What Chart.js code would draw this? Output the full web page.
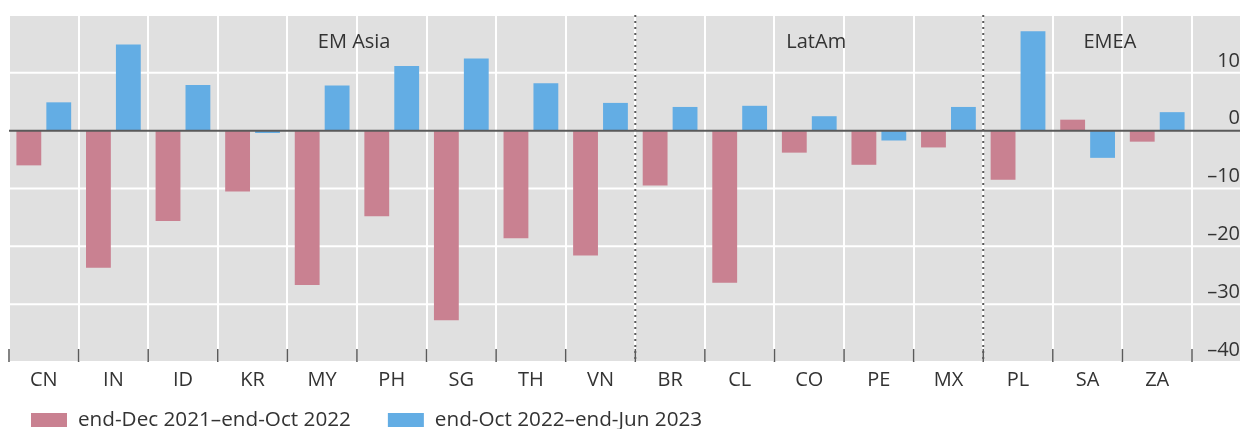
<!DOCTYPE html>
<html>
<head>
<meta charset="utf-8">
<script src="https://cdn.jsdelivr.net/npm/chart.js@4.4.0/dist/chart.umd.min.js"></script>
<style>
  html, body { margin: 0; padding: 0; background: #fff; }
  #wrap { width: 1240px; height: 429px; }
</style>
</head>
<body>
<div id="wrap"><canvas id="fxChart" width="1240" height="429"></canvas></div>
<script>
// data (per cent change)
const countries = ['CN', 'IN', 'ID', 'KR', 'MY', 'PH', 'SG', 'TH', 'VN', 'BR', 'CL', 'CO', 'PE', 'MX', 'PL', 'SA', 'ZA'];
const chgDec21Oct22 = [-6.0, -23.7, -15.6, -10.5, -26.7, -14.8, -32.8, -18.6, -21.6, -9.5, -26.3, -3.8, -5.9, -2.9, -8.5, 1.9, -1.9];
const chgOct22Jun23 = [4.9, 14.9, 7.9, -0.4, 7.8, 11.2, 12.5, 8.2, 4.8, 4.1, 4.3, 2.5, -1.7, 4.1, 17.2, -4.7, 3.2];
const seriesNames = ['end-Dec 2021\u2013end-Oct 2022', 'end-Oct 2022\u2013end-Jun 2023'];
const regionNames = ['EM Asia', 'LatAm', 'EMEA'];
const yTicks = [-40, -30, -20, -10, 0, 10, 20];

const PINK = '#c98191';
const BLUE = '#63ade4';
const TXT = '#333333';
const FONT = "'Open Sans', 'Noto Sans', sans-serif";

// gray panel, gridlines, zero line, region separators and names, legend
const panel = {
  id: 'panel',
  beforeDraw(chart) {
    const {ctx, chartArea: a, scales: {y}} = chart;
    ctx.save();
    ctx.fillStyle = '#e0e0e0';
    ctx.fillRect(a.left, a.top, chart.width - a.left, a.bottom - a.top);
    ctx.strokeStyle = '#ffffff';
    ctx.lineWidth = 2;
    yTicks.forEach(v => {
      if (v === 0) return;
      const py = y.getPixelForValue(v);
      ctx.beginPath();
      ctx.moveTo(a.left, py);
      ctx.lineTo(chart.width, py);
      ctx.stroke();
    });
    ctx.restore();
  },
  afterDatasetsDraw(chart, args, opts) {
    const {ctx, chartArea: a, scales: {x, y}} = chart;
    ctx.save();
    // zero line
    const y0 = y.getPixelForValue(0);
    ctx.strokeStyle = '#5a5a5a';
    ctx.lineWidth = 2;
    ctx.beginPath();
    ctx.moveTo(a.left, y0);
    ctx.lineTo(chart.width, y0);
    ctx.stroke();
    // small ticks at category borders
    ctx.lineWidth = 1.5;
    for (let i = 0; i <= countries.length; i++) {
      const px = x.getPixelForValue(i - 0.5);
      ctx.beginPath();
      ctx.moveTo(px, a.bottom - 13);
      ctx.lineTo(px, a.bottom);
      ctx.stroke();
    }
    // dotted region separators
    ctx.lineWidth = 2;
    ctx.setLineDash([2, 4]);
    opts.breaks.forEach(b => {
      const px = x.getPixelForValue(b - 0.5);
      ctx.beginPath();
      ctx.moveTo(px, a.top);
      ctx.lineTo(px, a.bottom);
      ctx.stroke();
    });
    ctx.setLineDash([]);
    // region names
    ctx.fillStyle = TXT;
    ctx.font = '20px ' + FONT;
    ctx.textAlign = 'center';
    ctx.textBaseline = 'middle';
    regionNames.forEach((name, i) => {
      ctx.fillText(name, x.getPixelForValue(opts.labelAt[i]), a.top + 27);
    });
    ctx.restore();
  },
  afterDraw(chart) {
    const {ctx} = chart;
    ctx.save();
    ctx.font = '20.7px ' + FONT;
    ctx.textBaseline = 'middle';
    ctx.textAlign = 'left';
    let lx = 31;
    const ly = 420;
    chart.data.datasets.forEach(ds => {
      ctx.fillStyle = ds.backgroundColor;
      ctx.fillRect(lx, ly - 7, 36, 14);
      ctx.fillStyle = TXT;
      ctx.fillText(ds.label, lx + 47, ly);
      lx += 47 + ctx.measureText(ds.label).width + 37;
    });
    ctx.restore();
  }
};

const ctx = document.getElementById('fxChart').getContext('2d');
const chart = new Chart(ctx, {
  type: 'bar',
  data: {
    labels: countries,
    datasets: [{
      label: seriesNames[0],
      data: chgDec21Oct22,
      backgroundColor: PINK
    }, {
      label: seriesNames[1],
      data: chgOct22Jun23,
      backgroundColor: BLUE
    }]
  },
  options: {
    responsive: false,
    animation: false,
    layout: { padding: { left: 9, top: 15, right: 0, bottom: 0 } },
    datasets: {
      bar: { categoryPercentage: 0.86, barPercentage: 0.83, borderWidth: 0 }
    },
    scales: {
      x: {
        grid: { color: '#ffffff', lineWidth: 2, drawTicks: false },
        border: { display: false },
        ticks: {
          color: TXT,
          font: { family: FONT, size: 20 },
          padding: 6,
          maxRotation: 0,
          autoSkip: false
        },
        afterFit: function(scale) {
          scale.height = 67;
          scale.paddingLeft = 0;
          scale.paddingRight = 0;
        }
      },
      y: {
        position: 'right',
        min: -40,
        max: 20,
        grid: { display: false, drawTicks: false },
        border: { display: false },
        ticks: {
          stepSize: 10,
          color: TXT,
          font: { family: FONT, size: 20 },
          crossAlign: 'far',
          padding: 14,
          labelOffset: -12,
          callback: function(v) {
            if (v === 20) return '';
            return v < 0 ? '\u2013' + Math.abs(v) : String(v);
          }
        },
        afterFit: function(scale) {
          scale.width = 48;
          scale.paddingTop = 0;
          scale.paddingBottom = 0;
        }
      }
    },
    plugins: {
      legend: { display: false },
      tooltip: { enabled: false },
      panel: { breaks: [9, 14], labelAt: [4.46, 11.1, 15.32] }
    }
  },
  plugins: [panel]
});
</script>
</body>
</html>
